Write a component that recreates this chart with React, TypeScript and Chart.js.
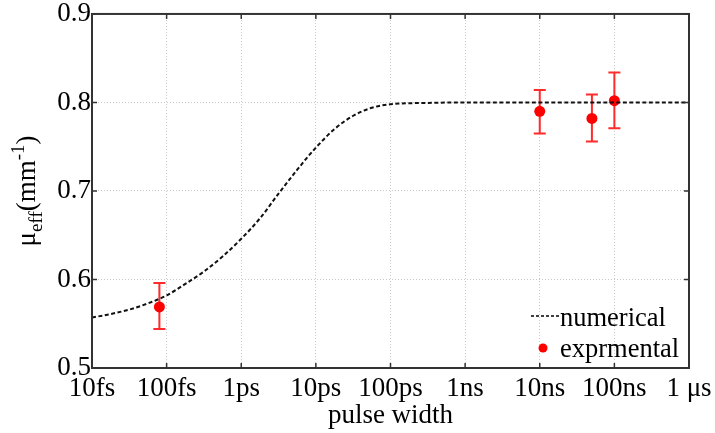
import React, { useEffect, useRef } from "react";
import { Chart, registerables } from "chart.js";

Chart.register(...registerables);

// ---- data ----
const tickDecades = [1e-14, 1e-13, 1e-12, 1e-11, 1e-10, 1e-9, 1e-8, 1e-7, 1e-6];
const tickLabels = ["10fs", "100fs", "1ps", "10ps", "100ps", "1ns", "10ns", "100ns", "1 μs"];
const yTicks = [0.5, 0.6, 0.7, 0.8, 0.9];

// numerical curve: log10(pulse width in s) and mu_eff
const curveLogWidth = [-14, -13.75, -13.5, -13.25, -13, -12.75, -12.5, -12.25, -12, -11.75, -11.5, -11.25, -11, -10.75, -10.5, -10.25, -10, -9.5, -9, -8, -7, -6];
const curveMu = [0.557, 0.561, 0.566, 0.573, 0.582, 0.595, 0.609, 0.626, 0.646, 0.669, 0.697, 0.724, 0.749, 0.77, 0.785, 0.794, 0.798, 0.7995, 0.8, 0.8, 0.8, 0.8];

// experimental
const expWidth = [8e-14, 1e-8, 5e-8, 1e-7];
const expMu = [0.569, 0.79, 0.782, 0.802];
const expLow = [0.544, 0.765, 0.756, 0.771];
const expHigh = [0.596, 0.814, 0.809, 0.834];

const FONT = "'Liberation Serif', 'Times New Roman', serif";
const FRAME = "#333333";

const customPlugin = {
  id: "custom",
  beforeDatasetsDraw(chart: any) {
    const { ctx, scales } = chart;
    const xs = scales.x;
    const ys = scales.y;
    ctx.save();
    ctx.strokeStyle = "#ff2a2a";
    ctx.lineWidth = 2;
    for (let i = 0; i < expWidth.length; i++) {
      const x = xs.getPixelForValue(expWidth[i]);
      const yt = ys.getPixelForValue(expHigh[i]);
      const yb = ys.getPixelForValue(expLow[i]);
      ctx.beginPath();
      ctx.moveTo(x, yt);
      ctx.lineTo(x, yb);
      ctx.moveTo(x - 6, yt);
      ctx.lineTo(x + 6, yt);
      ctx.moveTo(x - 6, yb);
      ctx.lineTo(x + 6, yb);
      ctx.stroke();
    }
    ctx.restore();
  },
  afterDraw(chart: any) {
    const { ctx, chartArea: a, scales } = chart;
    const xs = scales.x;
    const ys = scales.y;
    ctx.save();
    // frame
    ctx.strokeStyle = FRAME;
    ctx.lineWidth = 2;
    ctx.strokeRect(a.left, a.top, a.right - a.left, a.bottom - a.top);
    // inward ticks
    ctx.lineWidth = 1.5;
    ctx.beginPath();
    for (const v of tickDecades) {
      const x = xs.getPixelForValue(v);
      ctx.moveTo(x, a.bottom);
      ctx.lineTo(x, a.bottom - 5);
      ctx.moveTo(x, a.top);
      ctx.lineTo(x, a.top + 5);
    }
    for (const v of yTicks) {
      const y = ys.getPixelForValue(v);
      ctx.moveTo(a.left, y);
      ctx.lineTo(a.left + 5, y);
      ctx.moveTo(a.right, y);
      ctx.lineTo(a.right - 5, y);
    }
    ctx.stroke();

    // y axis title: mu_eff (mm^-1)
    const main = `27px ${FONT}`;
    const small = `19px ${FONT}`;
    const parts = [
      { t: "μ", f: main, dy: 0 },
      { t: "eff", f: small, dy: 7 },
      { t: "(mm", f: main, dy: 0 },
      { t: "-1", f: small, dy: -11 },
      { t: ")", f: main, dy: 0 },
    ];
    let total = 0;
    for (const p of parts) {
      ctx.font = p.f;
      total += ctx.measureText(p.t).width;
    }
    const yc = (a.top + a.bottom) / 2;
    ctx.translate(35, yc + total / 2);
    ctx.rotate(-Math.PI / 2);
    ctx.fillStyle = "#000";
    ctx.textBaseline = "alphabetic";
    ctx.textAlign = "left";
    let cx = 0;
    for (const p of parts) {
      ctx.font = p.f;
      ctx.fillText(p.t, cx, p.dy);
      cx += ctx.measureText(p.t).width;
    }
    ctx.setTransform(1, 0, 0, 1, 0, 0);

    // legend
    ctx.font = `26.5px ${FONT}`;
    ctx.fillStyle = "#000";
    ctx.textBaseline = "alphabetic";
    ctx.fillText("numerical", 560, 326);
    ctx.fillText("exprmental", 560, 357);
    ctx.strokeStyle = "#000";
    ctx.lineWidth = 1.5;
    ctx.setLineDash([3, 2]);
    ctx.beginPath();
    ctx.moveTo(531, 316);
    ctx.lineTo(559, 316);
    ctx.stroke();
    ctx.setLineDash([]);
    ctx.fillStyle = "#ff0000";
    ctx.beginPath();
    ctx.arc(543, 348, 4.5, 0, Math.PI * 2);
    ctx.fill();
    ctx.restore();
  },
};

export default function App() {
  const ref = useRef<HTMLCanvasElement>(null);
  useEffect(() => {
    if (!ref.current) return;
    const chart = new Chart(ref.current, {
      type: "scatter",
      data: {
        datasets: [
          {
            label: "numerical",
            data: curveLogWidth.map((e, i) => ({ x: Math.pow(10, e), y: curveMu[i] })),
            showLine: true,
            borderColor: "#111",
            borderWidth: 2,
            borderDash: [4, 2.5],
            pointRadius: 0,
            cubicInterpolationMode: "monotone",
            fill: false,
          },
          {
            label: "exprmental",
            data: expWidth.map((w, i) => ({ x: w, y: expMu[i] })),
            showLine: false,
            pointRadius: 5.5,
            pointBackgroundColor: "#ff0000",
            pointBorderWidth: 0,
            borderColor: "#ff0000",
          },
        ],
      },
      options: {
        animation: false,
        responsive: false,
        layout: { padding: { top: 13, right: 26, left: 0, bottom: 0 } },
        plugins: { legend: { display: false }, tooltip: { enabled: false } },
        scales: {
          x: {
            type: "logarithmic",
            min: 1e-14,
            max: 1e-6,
            afterBuildTicks: (scale: any) => {
              scale.ticks = tickDecades.map((v) => ({ value: v }));
            },
            afterFit: (scale: any) => {
              scale.height = 65;
              scale.paddingLeft = 0;
              scale.paddingRight = 0;
            },
            grid: { color: "#c8c8c8", lineWidth: 1, drawTicks: false },
            border: { display: false, dash: [1, 2] },
            ticks: {
              autoSkip: false,
              maxRotation: 0,
              padding: 7,
              color: "#000",
              font: { family: FONT, size: 27, lineHeight: 1 },
              callback: (value: any) => {
                const idx = Math.round(Math.log10(Number(value))) + 14;
                return tickLabels[idx] ?? "";
              },
            },
            title: {
              display: true,
              text: "pulse width",
              color: "#000",
              font: { family: FONT, size: 27, lineHeight: 1.2 },
              padding: { top: 0, bottom: 1 },
            },
          },
          y: {
            min: 0.5,
            max: 0.9,
            afterBuildTicks: (scale: any) => {
              scale.ticks = yTicks.map((v) => ({ value: v }));
            },
            afterFit: (scale: any) => {
              scale.width = 92;
            },
            grid: { color: "#c8c8c8", lineWidth: 1, drawTicks: false },
            border: { display: false, dash: [1, 2] },
            ticks: {
              padding: 1,
              color: "#000",
              font: { family: FONT, size: 27, lineHeight: 0.96 },
              callback: (value: any) => Number(value).toFixed(1),
            },
          },
        },
      },
      plugins: [customPlugin],
    } as any);
    return () => chart.destroy();
  }, []);
  return (
    <div style={{ position: "absolute", left: 0, top: 0, width: 715, height: 433, background: "#fff" }}>
      <canvas ref={ref} width={715} height={433} />
    </div>
  );
}
